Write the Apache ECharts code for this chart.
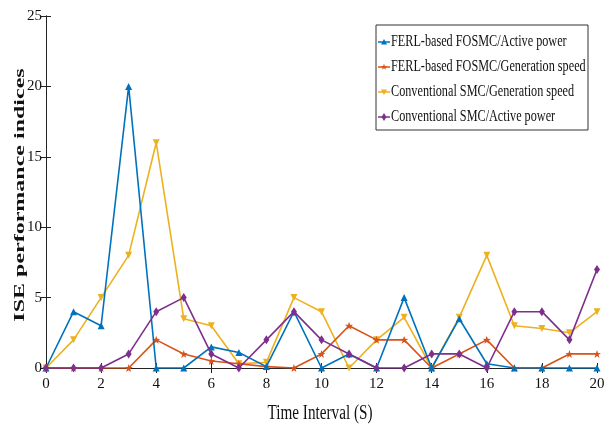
<!DOCTYPE html>
<html><head><meta charset="utf-8">
<script src="https://cdn.jsdelivr.net/npm/echarts@6/dist/echarts.min.js"></script>
<style>html,body{margin:0;padding:0;background:#fff}#c{width:611px;height:429px}</style>
</head><body><div id="c"></div>
<script>
const xValues = [0,1,2,3,4,5,6,7,8,9,10,11,12,13,14,15,16,17,18,19,20];
const seriesNames = ['FERL-based FOSMC/Active power','FERL-based FOSMC/Generation speed','Conventional SMC/Generation speed','Conventional SMC/Active power'];
const ferlActive = [0,4,3,20,0,0,1.5,1.1,0.1,4,0,1,0,5,0,3.5,0.3,0,0,0,0];
const ferlSpeed  = [0,0,0,0,2,1,0.5,0.3,0.1,0,1,3,2,2,0,1,2,0,0,1,1];
const smcSpeed   = [0,2,5,8,16,3.5,3,0.3,0.4,5,4,0,2,3.6,0,3.6,8,3,2.8,2.5,4];
const smcActive  = [0,0,0,1,4,5,1,0,2,4,2,1,0,0,1,1,0,4,4,2,7];
const xTicks = [0,2,4,6,8,10,12,14,16,18,20];
const yTicks = [0,5,10,15,20,25];
const xTitle = 'Time Interval (S)';
const yTitle = 'ISE performance indices';
const colors = ['#0072BD','#D95319','#EDB120','#7E2F8E'];
const symbols = ['triangle','path://M0,-10L2.4,-3.2L9.5,-3.1L3.8,1.2L5.9,8.1L0,4L-5.9,8.1L-3.8,1.2L-9.5,-3.1L-2.4,-3.2Z','path://M-10,-8L10,-8L0,9Z','diamond'];
const symSizes = [7,8,7,[6,9]];
const allData = [ferlActive, ferlSpeed, smcSpeed, smcActive];

const font = 'Liberation Serif';
const chart = echarts.init(document.getElementById('c'));
const axisBase = {
  axisLine:{show:true,lineStyle:{color:'#222',width:1}},
  axisTick:{show:true,inside:true,length:5,lineStyle:{color:'#222'}},
  splitLine:{show:false}
};

// legend drawn as graphic so text can be horizontally condensed like the original
const legX = 376, legY = 25, legW = 212, legH = 105, rowH = 25;
function legendMarker(i, cx, cy) {
  const s = 3;
  let pts;
  if (i === 0) pts = [[cx, cy - s], [cx + s, cy + s * 0.8], [cx - s, cy + s * 0.8]];
  else if (i === 1) {
    pts = [];
    for (let k = 0; k < 10; k++) {
      const r = k % 2 === 0 ? s + 0.5 : s * 0.45;
      const a = -Math.PI / 2 + k * Math.PI / 5;
      pts.push([cx + r * Math.cos(a), cy + r * Math.sin(a)]);
    }
  }
  else if (i === 2) pts = [[cx - s, cy - s * 0.8], [cx + s, cy - s * 0.8], [cx, cy + s]];
  else pts = [[cx, cy - s * 1.3], [cx + s * 0.8, cy], [cx, cy + s * 1.3], [cx - s * 0.8, cy]];
  return {type:'polygon',shape:{points:pts},style:{fill:colors[i]},z:102};
}
const legendChildren = [{
  type:'rect', shape:{x:legX,y:legY,width:legW,height:legH},
  style:{fill:'#fff',stroke:'#333',lineWidth:1}, z:100
}];
seriesNames.forEach((n,i)=>{
  const cy = legY + 17 + i*rowH;
  legendChildren.push({type:'line',shape:{x1:378,y1:cy,x2:390,y2:cy},style:{stroke:colors[i],lineWidth:1.5},z:101});
  legendChildren.push(legendMarker(i, 384, cy));
  legendChildren.push({type:'text',x:391,y:cy,scaleX:0.74,z:103,
    style:{text:n,x:0,y:0,fontFamily:font,fontSize:16.5,fill:'#111',verticalAlign:'middle',align:'left'}});
});
// axis titles (condensed like the original)
const titles = [
  {type:'text',x:320,y:414,scaleX:0.76,z:50,
    style:{text:xTitle,x:0,y:0,fontFamily:font,fontSize:20,fill:'#111',align:'center',verticalAlign:'middle'}},
  {type:'text',x:20,y:195,rotation:Math.PI/2,scaleY:0.62,z:50,
    style:{text:yTitle,x:0,y:0,fontFamily:font,fontSize:24,fontWeight:'bold',fill:'#111',align:'center',verticalAlign:'middle'}}
];

chart.setOption({
  animation:false,
  backgroundColor:'#fff',
  grid:{left:46,right:14,top:16,bottom:61,outerBoundsMode:'none',containLabel:false},
  xAxis:[
    Object.assign({type:'value',min:0,max:20,interval:2,position:'bottom',
      axisLabel:{fontFamily:font,fontSize:15,color:'#111',margin:9,
        formatter:v=>xTicks.includes(v)?String(v):''}},axisBase),
    Object.assign({type:'value',min:0,max:20,interval:2,position:'top',axisLabel:{show:false}},axisBase)
  ],
  yAxis:[
    Object.assign({type:'value',min:0,max:25,interval:5,position:'left',
      axisLabel:{fontFamily:font,fontSize:15,color:'#111',margin:4,
        formatter:v=>yTicks.includes(v)?String(v):''}},axisBase),
    Object.assign({type:'value',min:0,max:25,interval:5,position:'right',axisLabel:{show:false}},axisBase)
  ],
  graphic:[{type:'group',children:legendChildren.concat(titles)}],
  series: seriesNames.map((n,i)=>({
    name:n, type:'line',
    data: xValues.map((x,j)=>[x, allData[i][j]]),
    symbol: symbols[i], symbolSize: symSizes[i],
    showAllSymbol:true,
    lineStyle:{color:colors[i],width:1.6},
    itemStyle:{color:colors[i]},
    z: [5,4,3,6][i]
  }))
});
</script></body></html>
